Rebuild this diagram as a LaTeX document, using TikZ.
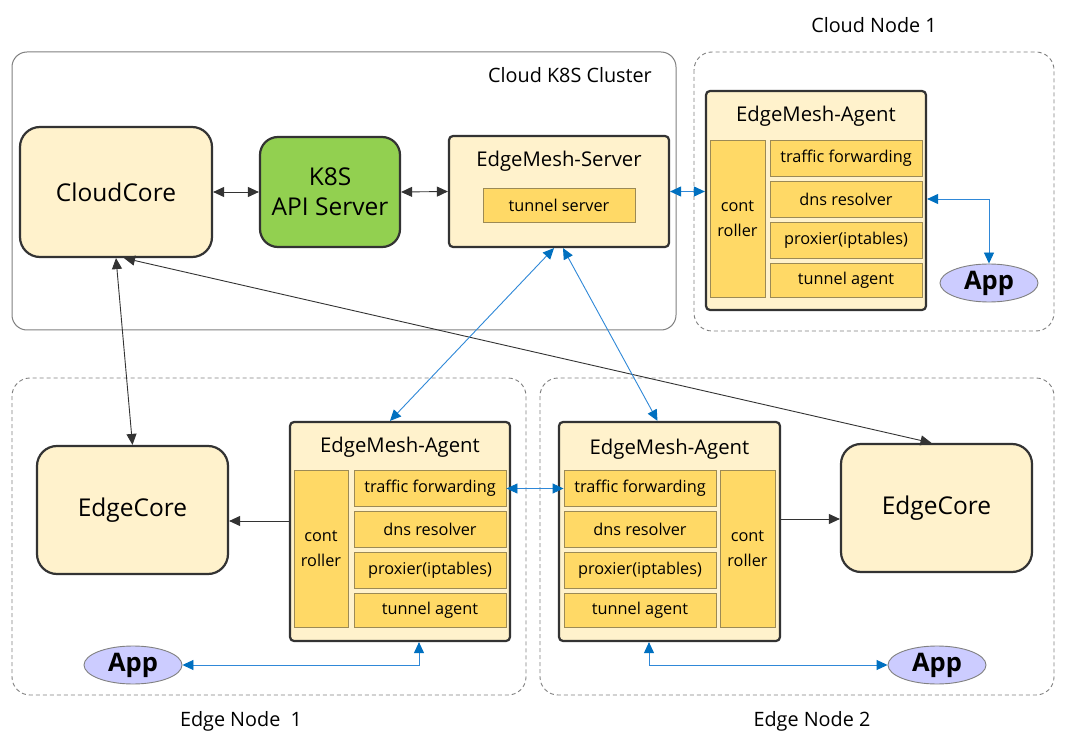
\documentclass[tikz,border=0pt]{standalone}
\usepackage{fontspec}
\setmainfont{Open Sans}
\usetikzlibrary{arrows.meta,shapes.geometric,calc}
\definecolor{lightY}{HTML}{FFF2CC}
\definecolor{darkY}{HTML}{FFD966}
\definecolor{innerB}{HTML}{9C8A55}
\definecolor{k8sG}{HTML}{92D050}
\definecolor{appF}{HTML}{CCCCFF}
\definecolor{blueL}{HTML}{2F88D8}
\definecolor{blueT}{HTML}{0070C0}
\definecolor{edgeK}{HTML}{333333}
\definecolor{grayB}{HTML}{808080}
\tikzset{
  bigbox/.style={draw=edgeK, line width=2.2pt, fill=lightY, rounded corners=20pt, inner sep=0pt, align=center, font=\fontsize{24.5}{30}\selectfont},
  agentbox/.style={draw=edgeK, line width=2.2pt, fill=lightY, rounded corners=4pt, inner sep=0pt},
  subbox/.style={draw=innerB, line width=0.9pt, fill=darkY, inner sep=0pt, align=center, font=\fontsize{16.3}{25}\selectfont},
  titletext/.style={font=\fontsize{20.3}{24}\selectfont, inner sep=0pt},
  labeltext/.style={font=\fontsize{19.8}{24}\selectfont, inner sep=0pt},
  appnode/.style={ellipse, draw=grayB, line width=0.9pt, fill=appF, minimum width=98pt, minimum height=38pt, inner sep=0pt, font=\fontsize{25.5}{28}\selectfont\bfseries},
  solidframe/.style={draw=grayB, line width=1pt, rounded corners=15pt},
  dashframe/.style={draw=grayB, line width=0.9pt, dash pattern=on 4pt off 3pt, rounded corners=18pt},
  blk/.style={draw=edgeK, line width=0.9pt, {Triangle[length=11pt,width=10pt]}-{Triangle[length=11pt,width=10pt]}},
  blkone/.style={draw=edgeK, line width=0.9pt, -{Triangle[length=11pt,width=10pt]}},
  blu/.style={draw=blueL, line width=0.9pt, {Triangle[length=11pt,width=10pt,color=blueT,fill=blueT]}-{Triangle[length=11pt,width=10pt,color=blueT,fill=blueT]}}
}
\begin{document}
\begin{tikzpicture}[x=1pt,y=-1pt]
\useasboundingbox (0,0) rectangle (1080,746);
\fill[white] (0,0) rectangle (1080,746);

% frames
\draw[solidframe] (12,52) rectangle (676,330);
\node[labeltext, anchor=east] (lcluster) at (652,75) {Cloud K8S Cluster};
\draw[dashframe] (694,52) rectangle (1054,331);
\node[labeltext] (lcn1) at (874,25) {Cloud Node 1};
\draw[dashframe] (12,378) rectangle (526,695);
\node[labeltext] (len1) at (241,721) {Edge Node\ \ 1};
\draw[dashframe] (540,378) rectangle (1054,695);
\node[labeltext] (len2) at (812,721) {Edge Node 2};

% cloud cluster
\node[bigbox, minimum width=192pt, minimum height=130pt] (cc) at (116,192) {CloudCore};
\node[bigbox, fill=k8sG, rounded corners=18pt, minimum width=140pt, minimum height=110pt] (k8s) at (330,192) {K8S\\API Server};
\node[agentbox, minimum width=220pt, minimum height=111pt] (ems) at (559,191.5) {};
\node[titletext] (emst) at (559,161) {EdgeMesh-Server};
\node[subbox, minimum width=152pt, minimum height=34pt] (tsrv) at (559,205) {tunnel server};

% cloud node 1 agent
\node[agentbox, minimum width=220pt, minimum height=219pt] (ag1) at (816,200.5) {};
\node[titletext] (ag1t) at (816,116) {EdgeMesh-Agent};
\node[subbox, minimum width=55pt, minimum height=157pt] (ctl1) at (737.5,218.5) {cont\\roller};
\node[subbox, minimum width=152pt, minimum height=36pt] (tf1) at (846,158) {traffic forwarding};
\node[subbox, minimum width=152pt, minimum height=36pt] (dns1) at (846,199) {dns resolver};
\node[subbox, minimum width=152pt, minimum height=36pt] (px1) at (846,240) {proxier(iptables)};
\node[subbox, minimum width=152pt, minimum height=34pt] (ta1) at (846,280) {tunnel agent};
\node[appnode] (app0) at (989,283) {App};

% edge node 1
\node[bigbox, minimum width=191pt, minimum height=128pt] (ec1) at (132.5,510) {EdgeCore};
\node[agentbox, minimum width=220pt, minimum height=219pt] (ag2) at (400,531.5) {};
\node[titletext] (ag2t) at (400,447) {EdgeMesh-Agent};
\node[subbox, minimum width=54pt, minimum height=157pt] (ctl2) at (321,548.5) {cont\\roller};
\node[subbox, minimum width=152pt, minimum height=36pt] (tf2) at (430,488.5) {traffic forwarding};
\node[subbox, minimum width=152pt, minimum height=36pt] (dns2) at (430,529.5) {dns resolver};
\node[subbox, minimum width=152pt, minimum height=36pt] (px2) at (430,570.5) {proxier(iptables)};
\node[subbox, minimum width=152pt, minimum height=34pt] (ta2) at (430,610.5) {tunnel agent};
\node[appnode] (app1) at (133,665) {App};

% edge node 2
\node[bigbox, minimum width=191pt, minimum height=128pt] (ec2) at (936.5,508) {EdgeCore};
\node[agentbox, minimum width=221pt, minimum height=219pt] (ag3) at (669.5,531.5) {};
\node[titletext] (ag3t) at (669.5,449) {EdgeMesh-Agent};
\node[subbox, minimum width=55pt, minimum height=157pt] (ctl3) at (747.5,548.5) {cont\\roller};
\node[subbox, minimum width=152pt, minimum height=36pt] (tf3) at (640,488.5) {traffic forwarding};
\node[subbox, minimum width=152pt, minimum height=36pt] (dns3) at (640,529.5) {dns resolver};
\node[subbox, minimum width=152pt, minimum height=36pt] (px3) at (640,570.5) {proxier(iptables)};
\node[subbox, minimum width=152pt, minimum height=34pt] (ta3) at (640,610.5) {tunnel agent};
\node[appnode] (app2) at (937,665) {App};

% black connectors
\draw[blk] (cc.east) -- (k8s.west);
\draw[blk] (k8s.east) -- (ems.west);
\draw[blk] (cc.south) -- (ec1.north);
\draw[blk] ($(cc.south)+(8,0)$) -- ($(ec2.north)+(-5,0)$);
\draw[blkone] ($(ec1.east -| ag2.west)+(0,11)$) -- ($(ec1.east)+(0,11)$);
\draw[blkone] ($(ec2.west -| ag3.east)+(0,11)$) -- ($(ec2.west)+(0,11)$);

% blue connectors
\draw[blu] (ems.east) -- (ems.east -| ag1.west);
\draw[blu] (dns1.east -| ag1.east) -| (app0.north);
\draw[blu] ($(ems.south)+(-5,0)$) -- ($(ag2.north)+(-10,0)$);
\draw[blu] ($(ems.south)+(4,0)$) -- ($(ag3.north)+(-12,0)$);
\draw[blu] (tf2.east) -- (tf3.west);
\draw[blu] (app1.east) -| ($(ag2.south)+(19,0)$);
\draw[blu] ($(ag3.south)+(-20.5,0)$) |- (app2.west);
\end{tikzpicture}
\end{document}
